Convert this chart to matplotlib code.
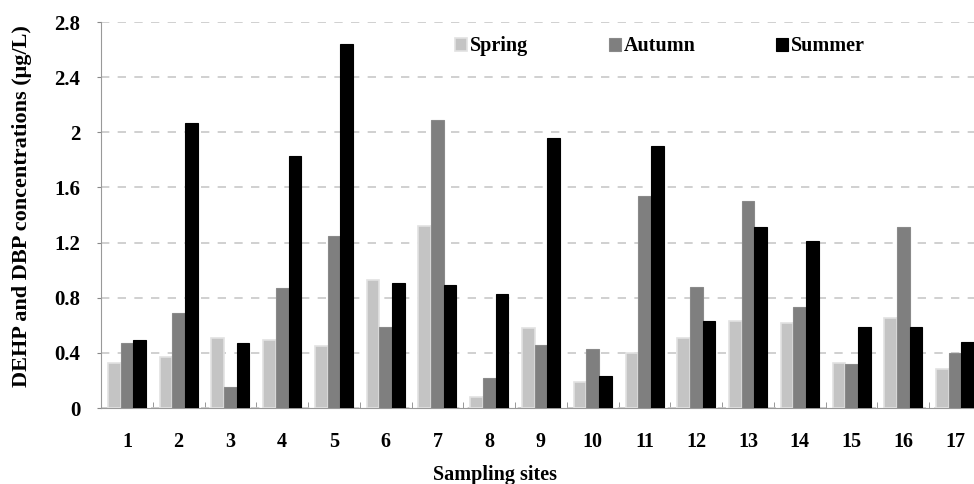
import matplotlib.pyplot as plt
import numpy as np

# Concentraciones por sitio (ug/L)
sitios = [str(i) for i in range(1, 18)]
spring = [0.33, 0.37, 0.51, 0.49, 0.45, 0.93, 1.32, 0.08, 0.58, 0.19, 0.40, 0.51, 0.63, 0.62, 0.33, 0.65, 0.28]
autumn = [0.47, 0.69, 0.15, 0.87, 1.25, 0.59, 2.09, 0.22, 0.46, 0.43, 1.54, 0.88, 1.50, 0.73, 0.32, 1.31, 0.40]
summer = [0.49, 2.07, 0.47, 1.83, 2.64, 0.91, 0.89, 0.83, 1.96, 0.23, 1.90, 0.63, 1.31, 1.21, 0.59, 0.59, 0.48]
yticks = [0, 0.4, 0.8, 1.2, 1.6, 2, 2.4, 2.8]
ytick_labels = ['0', '0.4', '0.8', '1.2', '1.6', '2', '2.4', '2.8']

plt.rcParams['font.family'] = ['Liberation Serif', 'DejaVu Serif']
plt.rcParams['font.weight'] = 'bold'

W, H = 974, 484
fig = plt.figure(figsize=(W / 100, H / 100), dpi=100)
ax = fig.add_axes([101 / W, (H - 408) / H, 880 / W, 386 / H])

x = np.arange(1, 18)
w = 0.245
ax.bar(x - w, spring, w, color='#c4c4c4', edgecolor='#e2e2e2', linewidth=1.2, label='Spring', zorder=3)
ax.bar(x, autumn, w, color='#7f7f7f', edgecolor='#8a8a8a', linewidth=0.8, label='Autumn', zorder=3)
ax.bar(x + w, summer, w, color='black', edgecolor='black', linewidth=0.8, label='Summer', zorder=3)

ax.set_xlim(0.5, 17.5)
ax.set_ylim(0, 2.8)
ax.set_yticks(yticks)
ax.set_yticklabels(ytick_labels, fontsize=15, fontweight='bold')
ax.set_xticks(x)
ax.set_xticklabels(sitios, fontsize=14.5, fontweight='bold')
ax.tick_params(axis='x', length=0, pad=17)
ax.set_xticks(np.arange(0.5, 18, 1), minor=True)
ax.tick_params(axis='x', which='minor', direction='in', length=4, color='#888888')
ax.tick_params(axis='y', length=3, color='#888888', pad=12)

ax.grid(axis='y', linestyle=(0, (5, 5)), color='#c8c8c8', linewidth=1.2, zorder=0)
for s in ['top', 'right']:
    ax.spines[s].set_visible(False)
for s in ['left', 'bottom']:
    ax.spines[s].set_color('#999999')

fig.text(22 / W, 1 - 206 / H, 'DEHP and DBP concentrations (μg/L)', rotation=90,
         ha='center', va='center', fontsize=16, fontweight='bold')
fig.text(495 / W, 1 - 475 / H, 'Sampling sites', ha='center', va='center', fontsize=14.5, fontweight='bold')

leg = ax.legend(loc='upper center', bbox_to_anchor=(559 / 880, 1.01), ncol=3, frameon=False,
                fontsize=14.5, handlelength=0.6, handleheight=0.6, handletextpad=0.15, columnspacing=4.0)
for t in leg.get_texts():
    t.set_fontweight('bold')

fig.savefig('out.png', dpi=100)
